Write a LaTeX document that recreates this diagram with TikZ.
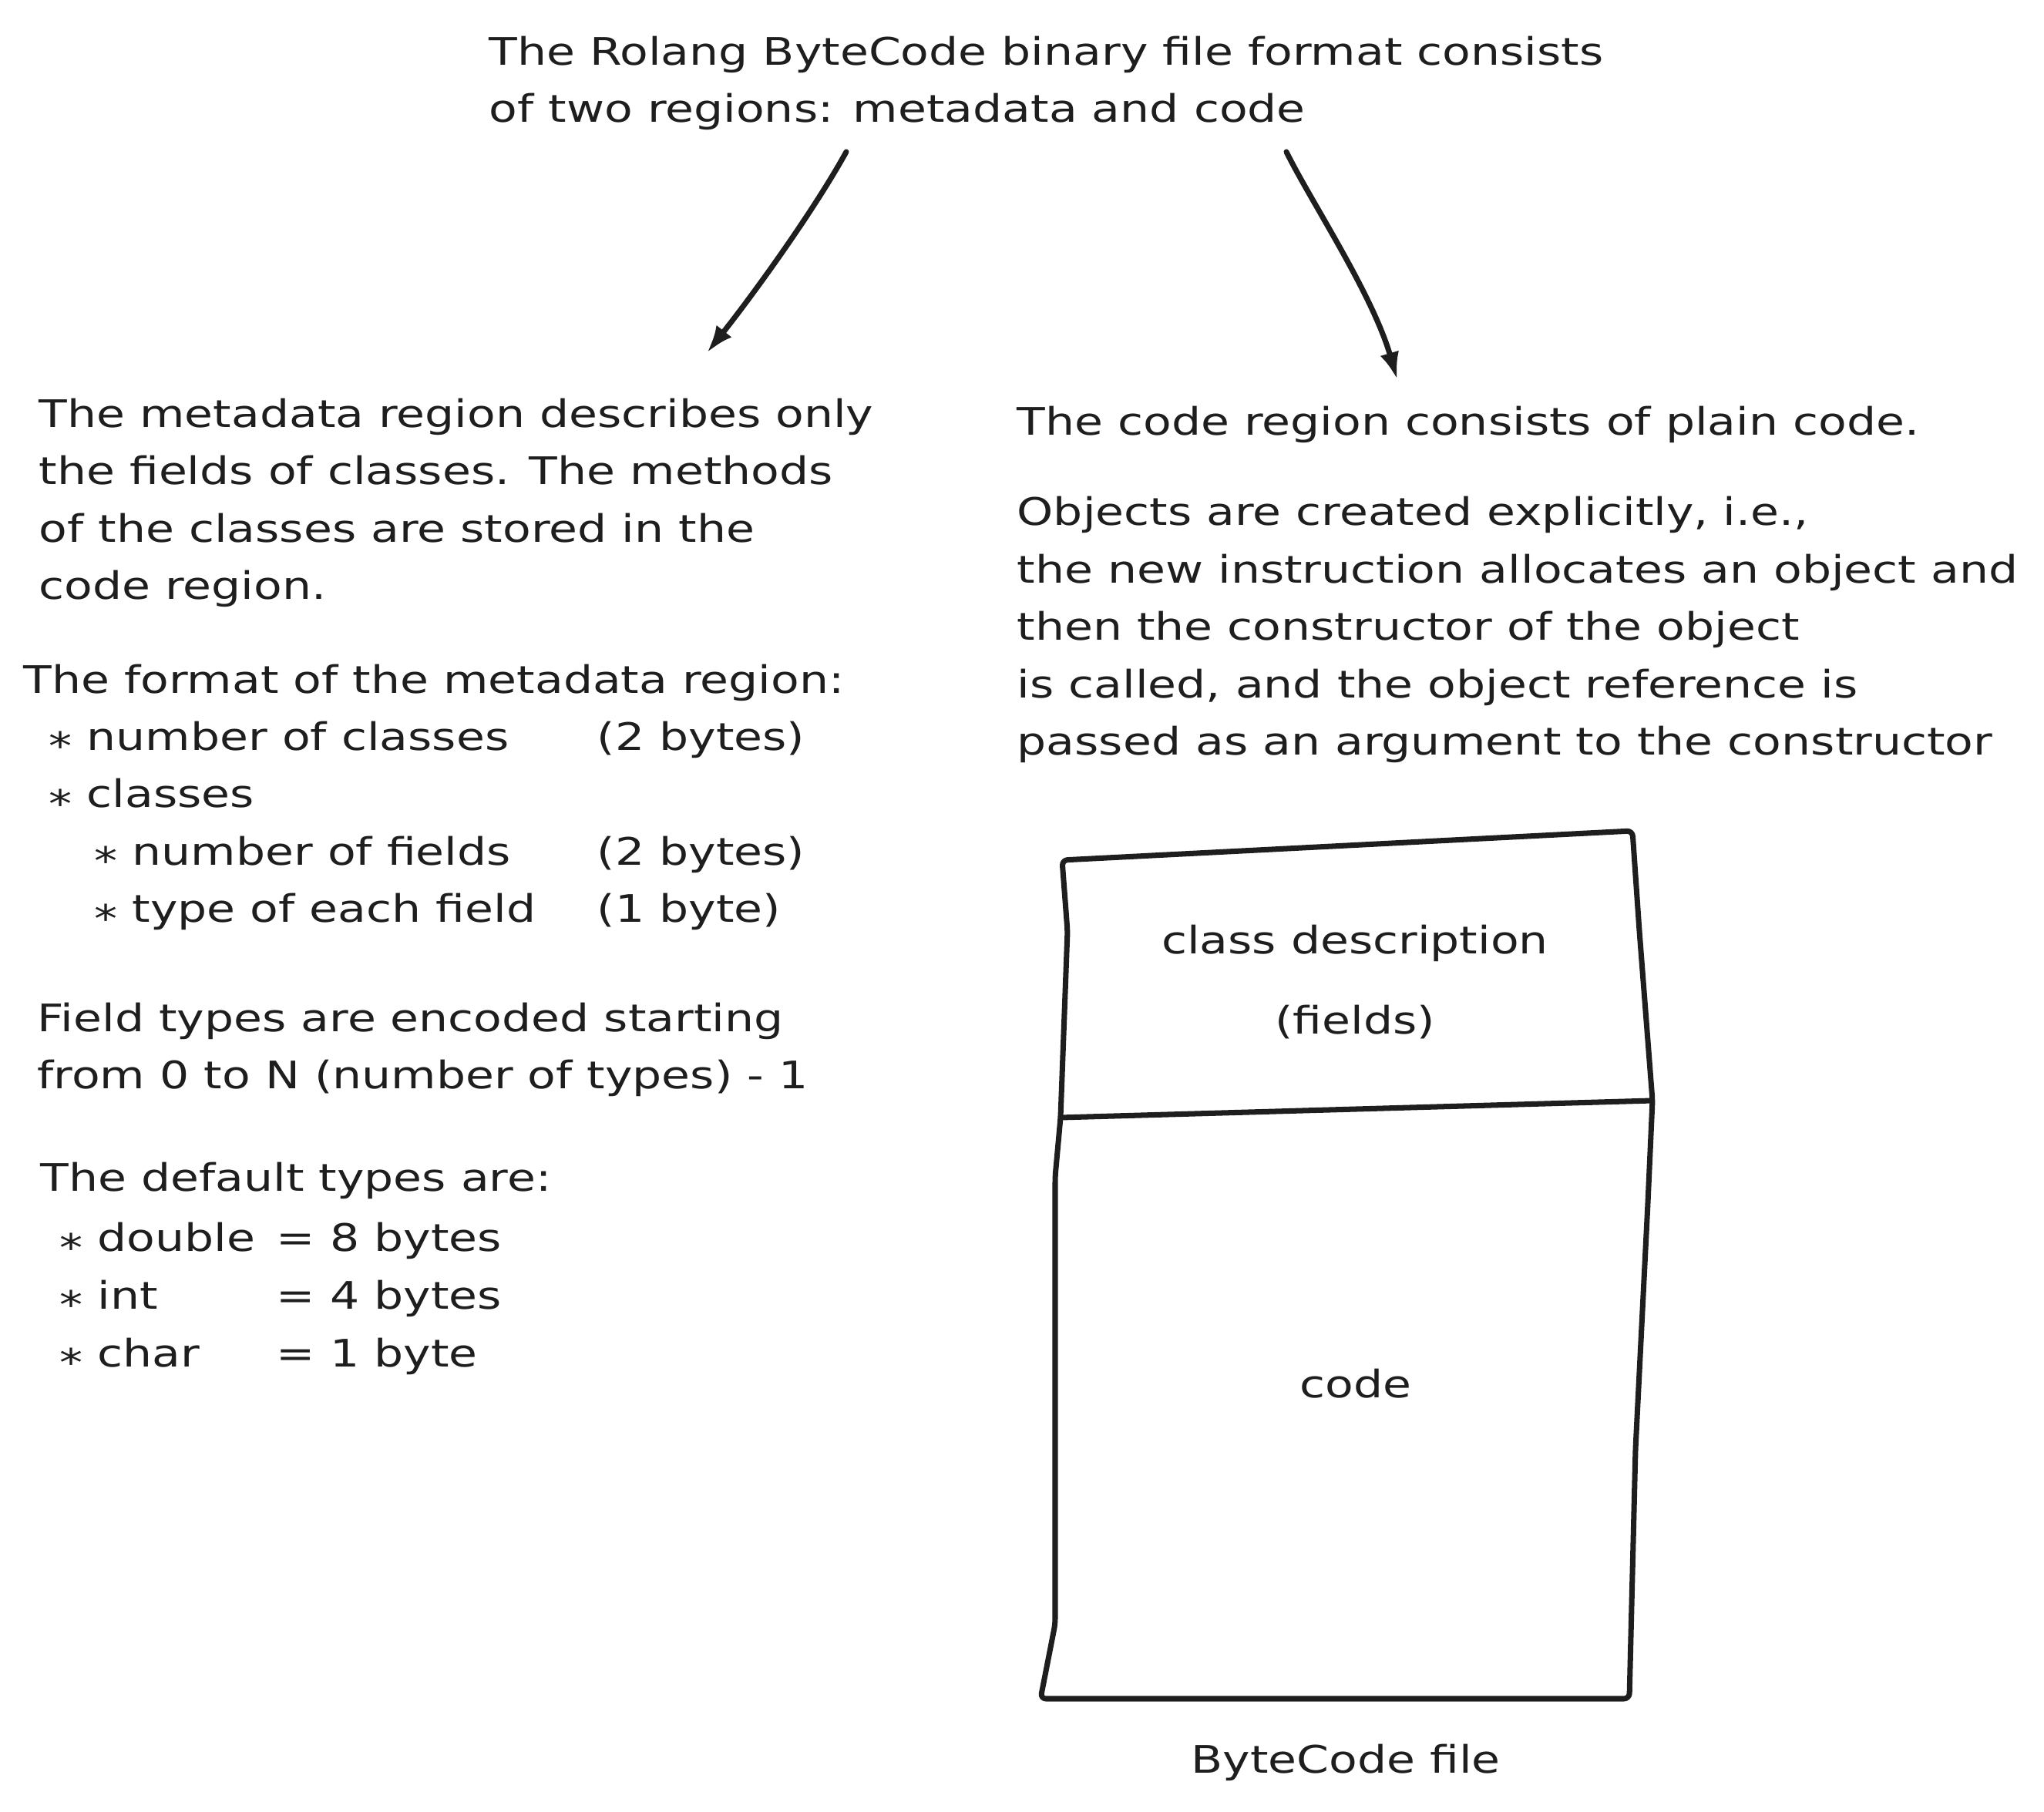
\documentclass[tikz,border=0pt]{standalone}
\usepackage{fontspec}
\setmainfont[FakeStretch=1.22]{DejaVu Sans}
\usepackage{xcolor}
\definecolor{ink}{RGB}{30,30,30}
\usepackage{tikz}
\usetikzlibrary{arrows.meta, positioning, calc}
\newcommand\notefont{\fontsize{14}{21.2}\selectfont}
\newcommand\bul{\raisebox{-0.25em}{*}}

\begin{document}
\begin{tikzpicture}[
    note/.style ={font=\notefont, align=left, anchor=base west,
                  inner sep=0pt, text=ink},
    boxtext/.style ={font=\notefont, align=center, anchor=base,
                  inner sep=0pt, text=ink},
    arrow/.style ={-{Latex[length=3.6mm,width=2.5mm]}, line width=2pt,
                  draw=ink, line cap=round},
    filebox/.style ={line width=2pt, draw=ink, line join=round,
                  rounded corners=2pt}
]
\useasboundingbox[fill=white] (0,0) rectangle (26.52,-23.51);

%% --- texte d'introduction (ancre = ligne du bas) ---
\node[note] (intro) at (6.34,-1.59)
  {The Rolang ByteCode binary file format consists\\
   of two regions: metadata and code};

%% --- colonne gauche : région metadata ---
\node[note] (meta) at (0.50,-7.78)
  {The metadata region describes only\\
   the fields of classes. The methods\\
   of the classes are stored in the\\
   code region.};
\node[note] (fmt) at (0.30,-9.00) {The format of the metadata region:};
\node[note] (fmtlist) at (0.63,-11.97)
  {\makebox[7.11cm][l]{\bul\ number of classes}(2 bytes)\\
   \bul\ classes\\
   \hspace*{0.59cm}\makebox[6.52cm][l]{\bul\ number of fields}(2 bytes)\\
   \hspace*{0.59cm}\makebox[6.52cm][l]{\bul\ type of each field}(1 byte)};
\node[note] (enc) at (0.48,-14.13)
  {Field types are encoded starting\\
   from 0 to N (number of types) - 1};
\node[note] (deft) at (0.52,-15.46) {The default types are:};
\node[note] (deflist) at (0.77,-17.73)
  {\makebox[2.81cm][l]{\bul\ double}= 8 bytes\\
   \makebox[2.81cm][l]{\bul\ int}= 4 bytes\\
   \makebox[2.81cm][l]{\bul\ char}= 1 byte};

%% --- colonne droite : région code ---
\node[note] (codereg) at (13.19,-5.65) {The code region consists of plain code.};
\node[note] (objs) at (13.19,-9.80)
  {Objects are created explicitly, i.e.,\\
   the new instruction allocates an object and\\
   then the constructor of the object\\
   is called, and the object reference is\\
   passed as an argument to the constructor};

%% --- flèches depuis l'introduction ---
\coordinate (a1s) at (10.98,-1.97);
\coordinate (a1e) at (9.17,-4.58);
\coordinate (a2s) at (16.69,-1.97);
\coordinate (a2e) at (18.13,-4.93);
\draw[arrow] (a1s) .. controls (10.55,-2.75) and (9.75,-3.85) .. (a1e);
\draw[arrow] (a2s) .. controls (17.0,-2.6) and (17.8,-3.8) .. (a2e);

%% --- le fichier ByteCode, trait à main levée ---
\coordinate (tl) at (13.78,-11.16);
\coordinate (tr) at (21.18,-10.78);
\coordinate (dr) at (21.44,-14.28);
\coordinate (br) at (21.14,-22.04);
\coordinate (bl) at (13.50,-22.04);
\coordinate (dl) at (13.76,-14.50);
\draw[filebox] (tl) -- (tr) -- (21.27,-12.08) -- (dr) -- (21.38,-15.61)
  -- (21.22,-18.80) -- (br) -- (bl) -- (13.69,-21.07) -- (13.69,-15.27)
  -- (dl) -- (13.85,-12.08) -- cycle;
\draw[filebox] (dl) -- (dr);
\node[boxtext] (classdesc) at (17.58,-13.42) {class description\\[8.6pt](fields)};
\node[boxtext] (codepart) at (17.59,-18.13) {code};
\node[boxtext] (filelbl) at (17.46,-23.00) {ByteCode file};
\end{tikzpicture}
\end{document}
